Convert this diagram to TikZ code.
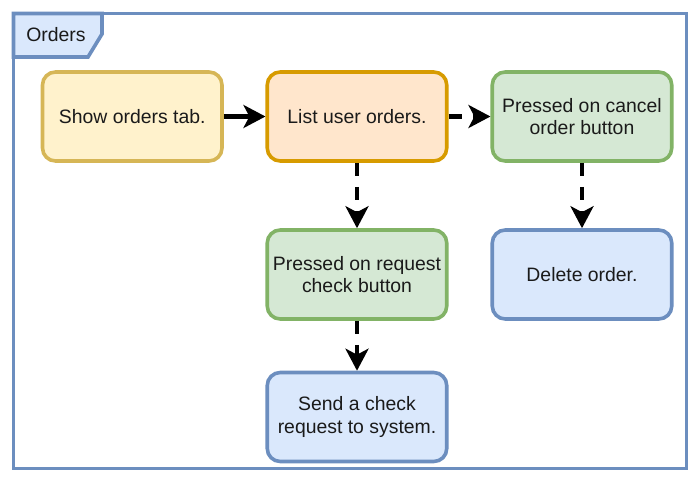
\documentclass[tikz,border=0pt]{standalone}
\usepackage{fontspec}
\setmainfont{Liberation Sans}
\usetikzlibrary{arrows.meta}
\definecolor{bluefill}{HTML}{DAE8FC}
\definecolor{bluestroke}{HTML}{6C8EBF}
\definecolor{yellowfill}{HTML}{FFF2CC}
\definecolor{yellowstroke}{HTML}{D6B656}
\definecolor{orangefill}{HTML}{FFE6CC}
\definecolor{orangestroke}{HTML}{D79B00}
\definecolor{greenfill}{HTML}{D5E8D4}
\definecolor{greenstroke}{HTML}{82B366}
\definecolor{txt}{HTML}{1A1A1A}
\begin{document}
\begin{tikzpicture}[x=1pt,y=-1pt,
  box/.style={rectangle, rounded corners=13pt, line width=3.6pt,
    minimum width=179.5pt, minimum height=89pt, align=center,
    font=\fontsize{19.4}{22.5}\selectfont, text=txt, inner sep=0pt},
  yellowbox/.style={box, draw=yellowstroke, fill=yellowfill},
  orangebox/.style={box, draw=orangestroke, fill=orangefill},
  greenbox/.style={box, draw=greenstroke, fill=greenfill},
  bluebox/.style={box, draw=bluestroke, fill=bluefill},
  flow/.style={line width=4.5pt, black, -{Stealth[length=22pt, width=23pt, inset=6pt]}},
  dflow/.style={flow, dash pattern=on 13pt off 11pt},
  frameline/.style={draw=bluestroke, line width=3.6pt},
]
\useasboundingbox (0,0) rectangle (700,482);
\fill[white] (0,0) rectangle (700,482);
% frame tab
\filldraw[frameline, fill=bluefill, line join=miter]
  (13.5,13.5) -- (102,13.5) -- (102,34) -- (88,57) -- (13.5,57) -- cycle;
\node[font=\fontsize{19.4}{22.5}\selectfont, text=txt] (tab) at (56,35) {Orders};
% frame
\draw[frameline] (13.5,13.5) rectangle (686.5,468.5);
% boxes
\node[yellowbox] (b1) at (132.25,116.5) {Show orders tab.};
\node[orangebox] (b2) at (357,116.5) {List user orders.};
\node[greenbox]  (b3) at (582,116.5) {Pressed on cancel\\order button};
\node[greenbox]  (b4) at (357,274.5) {Pressed on request\\check button};
\node[bluebox]   (b5) at (582,274.5) {Delete order.};
\node[bluebox]   (b6) at (357,417) {Send a check\\request to system.};
% connectors
\draw[flow] (b1) -- (b2);
\draw[dflow] (b2) -- (b3);
\draw[dflow] (b2) -- (b4);
\draw[dflow] (b3) -- (b5);
\draw[dflow] (b4) -- (b6);
\end{tikzpicture}
\end{document}
